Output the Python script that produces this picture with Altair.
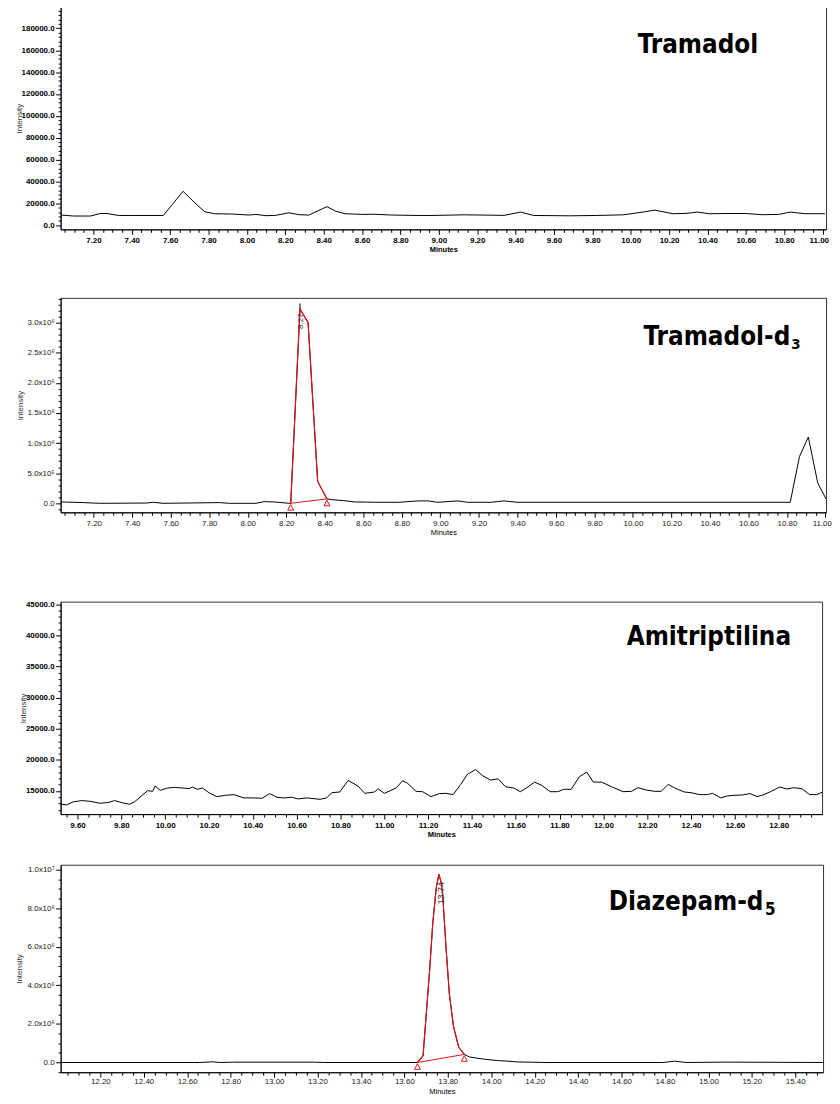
import math
import altair as alt
import pandas as pd

FONT = "Liberation Sans"
TFONT = "Liberation Sans Narrow, DejaVu Sans Condensed, Liberation Sans, sans-serif"
RED = "#e3121b"

# ---------------- Tramadol ----------------
tram_min = [7.029, 7.098, 7.184, 7.236, 7.271, 7.331, 7.407, 7.564, 7.667, 7.728,
            7.780, 7.831, 7.924, 8.012, 8.047, 8.099, 8.150, 8.219, 8.271, 8.323,
            8.417, 8.461, 8.512, 8.598, 8.668, 8.754, 8.892, 8.959, 9.133, 9.340,
            9.426, 9.495, 9.685, 9.823, 9.961, 10.064, 10.124, 10.220, 10.288, 10.349,
            10.409, 10.512, 10.599, 10.685, 10.771, 10.832, 10.909, 11.012]
tram_int = [9300, 8400, 8400, 10700, 10700, 8900, 8900, 8900, 31000, 20500,
            12300, 10500, 10200, 9300, 9900, 8700, 9000, 11400, 9600, 9300,
            17000, 12900, 10500, 9900, 10000, 9300, 8900, 8900, 9500, 9000,
            12000, 8900, 8600, 8900, 9500, 12000, 13800, 10500, 10800, 12000,
            10500, 10700, 10700, 9600, 9900, 12000, 10500, 10500]

# ---------------- Tramadol-d3 ----------------
tramd3_min = [7.028, 7.148, 7.235, 7.475, 7.509, 7.561, 7.853, 7.905, 8.042, 8.085,
              8.137, 8.198, 8.223, 8.271, 8.313, 8.363, 8.411, 8.437, 8.497, 8.558,
              8.678, 8.781, 8.884, 8.936, 8.987, 9.090, 9.142, 9.262, 9.331, 9.400,
              10.817, 10.865, 10.911, 10.960, 11.003]
tramd3_int = [23000, 12000, 0, 5000, 17000, 0, 12000, 0, 0, 28000,
              23000, 5000, 0, 3224000, 3003000, 363000, 73000, 61000, 45000, 23000,
              17000, 17000, 40000, 40000, 17000, 40000, 17000, 17000, 40000, 17000,
              17000, 776000, 1100000, 337000, 73000]
tramd3_peak_min = [8.223, 8.271, 8.313, 8.363, 8.411]
tramd3_peak_int = [0, 3224000, 3003000, 363000, 73000]
tramd3_base_min = [8.223, 8.411]
tramd3_base_int = [0, 73000]
tramd3_rt = [8.271]
tramd3_rt_int = [3224000]
tramd3_rt_top = [3317000]
tramd3_rt_label = ["8.27"]

# ---------------- Amitriptilina ----------------
amit_min = [9.502, 9.550, 9.580, 9.618, 9.656, 9.701, 9.739, 9.769, 9.807, 9.837,
            9.860, 9.920, 9.943, 9.954, 9.978, 10.011, 10.041, 10.079, 10.109, 10.125,
            10.147, 10.170, 10.200, 10.235, 10.276, 10.314, 10.359, 10.404, 10.442, 10.477,
            10.510, 10.540, 10.578, 10.608, 10.646, 10.707, 10.737, 10.760, 10.797, 10.835,
            10.880, 10.911, 10.956, 10.971, 11.001, 11.054, 11.084, 11.107, 11.145, 11.175,
            11.213, 11.251, 11.281, 11.314, 11.349, 11.379, 11.417, 11.447, 11.485, 11.520,
            11.553, 11.591, 11.621, 11.651, 11.686, 11.719, 11.757, 11.792, 11.818, 11.853,
            11.890, 11.924, 11.954, 11.992, 12.037, 12.090, 12.128, 12.158, 12.196, 12.234,
            12.264, 12.295, 12.332, 12.370, 12.400, 12.438, 12.475, 12.498, 12.536, 12.566,
            12.596, 12.634, 12.669, 12.702, 12.732, 12.762, 12.805, 12.838, 12.868, 12.906,
            12.941, 12.974, 13.004]
amit_int = [12980, 12770, 13250, 13460, 13350, 13040, 13140, 13460, 13090, 12880,
            13250, 15050, 14950, 15800, 15110, 15480, 15580, 15480, 15370, 15640,
            15270, 15480, 14730, 14100, 14310, 14420, 13890, 13890, 13830, 14580,
            13990, 13890, 13990, 13730, 13890, 13670, 13890, 14730, 14840, 16700,
            15800, 14630, 14840, 15370, 14630, 15480, 16650, 16220, 14950, 14890,
            14100, 14580, 14630, 14420, 16060, 17660, 18450, 17500, 16750, 16960,
            15690, 15480, 14890, 15530, 16430, 15900, 14890, 14890, 15270, 15270,
            17280, 18030, 16430, 16430, 15690, 14890, 14950, 15530, 15160, 14950,
            14950, 16060, 15370, 14840, 14730, 14420, 14420, 14630, 13890, 14210,
            14310, 14360, 14580, 14100, 14420, 14890, 15640, 15320, 15530, 15370,
            14420, 14420, 14890]

# ---------------- Diazepam-d5 ----------------
diaz_min = [12.017, 12.657, 12.718, 12.749, 12.809, 13.190, 13.229, 13.660, 13.686, 13.716,
            13.731, 13.747, 13.759, 13.769, 13.777, 13.792, 13.807, 13.826, 13.850, 13.876,
            13.899, 13.968, 14.029, 14.074, 14.120, 14.257, 14.790, 14.844, 14.897, 15.072,
            15.528]
diaz_int = [0, 0, 35000, 0, 17000, 17000, 0, 0, 350000, 4740000,
            7260000, 9070000, 9750000, 9360000, 8600000, 5920000, 3560000, 1880000, 790000, 420000,
            290000, 170000, 100000, 70000, 30000, 0, 0, 70000, 0, 20000,
            0]
diaz_peak_min = [13.660, 13.686, 13.716, 13.731, 13.747, 13.759, 13.769, 13.777, 13.792,
                 13.807, 13.826, 13.850, 13.876]
diaz_peak_int = [0, 350000, 4740000, 7260000, 9070000, 9750000, 9360000, 8600000, 5920000,
                 3560000, 1880000, 790000, 420000]
diaz_base_min = [13.660, 13.876]
diaz_base_int = [0, 420000]
diaz_rt = [13.759]
diaz_rt_int = [9750000]
diaz_rt_label = ["13.74"]


def ticks(lo, hi, step):
    n0 = math.ceil(lo / step - 1e-9)
    n1 = math.floor(hi / step + 1e-9)
    return [round(i * step, 6) for i in range(n0, n1 + 1)]


def sci_expr(M):
    e = "floor(log(datum.value)/LN10 + 1e-9)"
    return ("datum.value == 0 ? '0.0' : (abs(datum.value/%s - round(datum.value/%s)) < 1e-6 ? "
            "format(datum.value / pow(10, %s), '.1f') + 'x10' + (%s == 5 ? '\u2075' : (%s == 6 ? '\u2076' : '\u2077')) : '')"
            % (M, M, e, e, e))


def plain_expr(M):
    return "abs(datum.value/%s - round(datum.value/%s)) < 1e-6 ? format(datum.value, '.1f') : ''" % (M, M)


def panel(mins, ints, xdom, ydom, w, h, ymajor, yminor, yexpr, bold, title_x,
          xtitle_y, xlab_pad, extra_fn):
    col = "#000000" if bold else "#222222"
    wt = "bold" if bold else "normal"
    xtest = "abs(datum.value*5 - round(datum.value*5)) < 0.001"
    ytest = "abs(datum.value/%s - round(datum.value/%s)) < 1e-6" % (ymajor, ymajor)
    xax = alt.Axis(values=ticks(xdom[0], xdom[1], 0.05),
                   labelExpr="%s ? format(datum.value, '.2f') : ''" % xtest,
                   tickSize={"condition": {"test": xtest, "value": 5}, "value": 3},
                   labelOverlap=False, labelFlush=5, labelFlushOffset=6, labelPadding=xlab_pad,
                   labelFontSize=8, labelColor=col, labelFontWeight=wt,
                   title="Minutes", titleFontSize=7.5, titleFontWeight=wt, titleColor="#000000",
                   titleY=xtitle_y, titleBaseline="alphabetic", grid=False)
    yax = alt.Axis(values=ticks(ydom[0], ydom[1], yminor), labelExpr=yexpr,
                   tickSize={"condition": {"test": ytest, "value": 5}, "value": 2.5},
                   labelOverlap=False, labelFlush=False, labelPadding=1.5,
                   labelFontSize=8, labelColor=col, labelFontWeight=wt,
                   title="Intensity", titleFontSize=8, titleFontWeight="normal", titleColor="#333333",
                   titleX=title_x, titleY=h / 2, titleAngle=270, titleBaseline="middle",
                   titleAlign="center", grid=False)
    X = alt.X("m:Q", scale=alt.Scale(domain=xdom, nice=False, zero=False), axis=xax)
    Y = alt.Y("v:Q", scale=alt.Scale(domain=ydom, nice=False, zero=False), axis=yax)
    df = pd.DataFrame({"m": mins, "v": ints})
    base = alt.Chart(df).mark_line(color="black", strokeWidth=1, clip=True).encode(x=X, y=Y)
    return alt.layer(base, *extra_fn(X, Y)).properties(width=w, height=h)


def title_text(txt, x, y, size, align="left"):
    return alt.Chart(pd.DataFrame({"t": [txt]})).mark_text(
        font=TFONT, fontSize=size, fontWeight="bold", align=align, baseline="alphabetic",
        color="black").encode(x=alt.value(x), y=alt.value(y), text="t:N")


def red_layers(X, Y, pm, pi, bm, bi):
    peak = alt.Chart(pd.DataFrame({"m": pm, "v": pi})).mark_line(color=RED, strokeWidth=1.2).encode(
        x=X, y=Y)
    basel = alt.Chart(pd.DataFrame({"m": bm, "v": bi})).mark_line(color=RED, strokeWidth=1).encode(
        x=X, y=Y)
    tri = alt.Chart(pd.DataFrame({"m": bm, "v": bi})).mark_point(
        shape="M0,0.4L1,2.3L-1,2.3Z", size=36, filled=False, color=RED, strokeWidth=1, opacity=1).encode(
        x=X, y=Y)
    return [peak, basel, tri]


def rt_label(X, Y, rt, val, lab, size, dx, dy):
    return alt.Chart(pd.DataFrame({"m": rt, "v": val, "t": lab})).mark_text(
        font=FONT, fontSize=size, angle=270, align="right", baseline="middle",
        color="#333333", dx=dx, dy=dy).encode(x=X, y=Y, text="t:N")


def extra_p1(X, Y):
    return [title_text("Tramadol", 642, 46, 26, "center")]


def extra_p2(X, Y):
    rt_tick = alt.Chart(pd.DataFrame({"m": tramd3_rt, "v": tramd3_rt_int, "v2": tramd3_rt_top})).mark_rule(
        color="black", strokeWidth=1).encode(x=X, y=Y, y2="v2:Q")
    return (red_layers(X, Y, tramd3_peak_min, tramd3_peak_int, tramd3_base_min, tramd3_base_int)
            + [rt_tick, rt_label(X, Y, tramd3_rt, tramd3_rt_int, tramd3_rt_label, 8, -4.5, 1),
               title_text("Tramadol-d", 735, 47.5, 26, "right"),
               title_text("3", 736, 51.3, 15, "left")])


def extra_p3(X, Y):
    return [title_text("Amitriptilina", 653, 44.1, 26, "center")]


def extra_p4(X, Y):
    return (red_layers(X, Y, diaz_peak_min, diaz_peak_int, diaz_base_min, diaz_base_int)
            + [rt_label(X, Y, diaz_rt, diaz_rt_int, diaz_rt_label, 9, -7.7, 2.3),
               title_text("Diazepam-d", 708, 45.7, 26, "right"),
               title_text("5", 709.5, 50.4, 17, "left")])


p1 = panel(tram_min, tram_int, [7.029, 11.018], [-3800, 199500], 771, 224,
           20000, 4000, plain_expr(20000), True, -41, 22.5, 2, extra_p1)
p2 = panel(tramd3_min, tramd3_int, [7.028, 11.003], [-149000, 3410000], 771, 216,
           500000, 100000, sci_expr(500000), False, -40, 22.5, 2, extra_p2)
p3 = panel(amit_min, amit_int, [9.523, 12.998], [11290, 45410], 767, 214,
           5000, 1000, plain_expr(5000), True, -37, 22.5, 2, extra_p3)
p4 = panel(diaz_min, diaz_int, [12.017, 15.528], [-504000, 10250000], 768, 209,
           2000000, 500000, sci_expr(2000000), False, -41, 21.5, 0.5, extra_p4)

top = alt.vconcat(p1, p2, spacing=40)
bottom = alt.vconcat(p3, p4, spacing=25)
chart = alt.vconcat(top, bottom, spacing=63).properties(
    padding={"left": 7, "top": -6, "right": 0, "bottom": 0}
).configure_view(stroke="#333333", strokeWidth=1).configure_axis(
    labelFont=FONT, titleFont=FONT, domainColor="black", tickColor="black",
    domainWidth=1, tickWidth=1
)

chart.save("out.html", embed_options={"renderer": "svg", "actions": False})
